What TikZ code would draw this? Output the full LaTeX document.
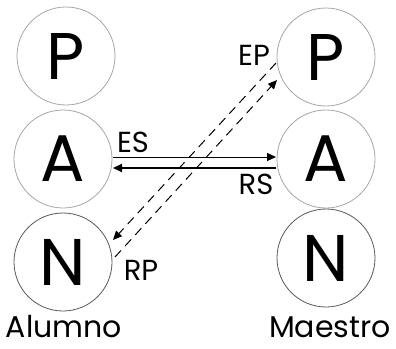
\documentclass[tikz,border=0pt]{standalone}
\usepackage{fontspec}
\setmainfont{Poppins}
\usetikzlibrary{arrows.meta}
\begin{document}
\begin{tikzpicture}[x=1pt,y=-1pt,
  circ/.style={circle,draw=black!35,line width=0.8pt,minimum size=98pt,inner sep=0pt,font=\fontsize{66}{66}\selectfont},
  circd/.style={circ,draw=black!65},
  lab/.style={inner sep=0pt,font=\fontsize{29}{29}\selectfont},
  nmlab/.style={inner sep=0pt,font=\fontsize{30}{30}\selectfont},
  sarr/.style={line width=1pt,-{Triangle[length=9pt,width=8pt]}},
  darr/.style={line width=1pt,dash pattern=on 9pt off 6pt,-{Triangle[length=9pt,width=8pt]}}]
\useasboundingbox (0,0) rectangle (396,348);
\node[circ] (lp) at (66,56) {P};
\node[circ] (la) at (63,159) {A};
\node[circd] (ln) at (63,262) {N};
\node[circ] (rp) at (326,57) {P};
\node[circ] (ra) at (326,159) {A};
\node[circd] (rn) at (326,258) {N};
\node[nmlab] (alumno) at (64,327) {Alumno};
\node[nmlab] (maestro) at (330,327) {Maestro};
\coordinate (es1) at (113,157);
\coordinate (es2) at (276,157);
\coordinate (rs1) at (276,168);
\coordinate (rs2) at (113,168);
\coordinate (d1a) at (276,63);
\coordinate (d1b) at (113,240);
\coordinate (d2a) at (115,257);
\coordinate (d2b) at (277,80);
\draw[sarr] (es1) -- (es2);
\draw[sarr,line width=1.8pt] (rs1) -- (rs2);
\draw[darr] (d1a) -- (d1b);
\draw[darr] (d2a) -- (d2b);
\node[lab] (es) at (133,142) {ES};
\node[lab] (rs) at (256,184) {RS};
\node[lab] (ep) at (254,55) {EP};
\node[lab] (rp) at (141,270) {RP};
\end{tikzpicture}
\end{document}
